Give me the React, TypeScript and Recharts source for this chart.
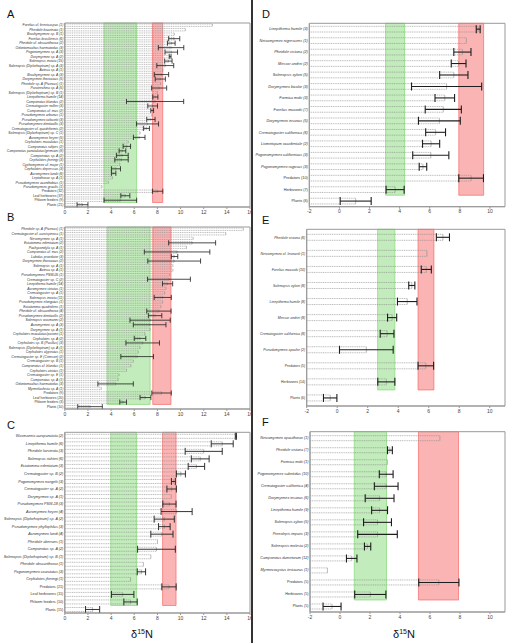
import React from "react";
import { ComposedChart, Bar, ErrorBar, XAxis, YAxis, ReferenceArea } from "recharts";

const FONT = "'Liberation Sans', Arial, Helvetica, sans-serif";
const GROUP_ROWS = ["Predators", "Leaf herbivores", "Phloem feeders", "Herbivores", "Plants"];

// panel A
const labelsA = [
  "Forelius cf. brevicaspus (1)", "Pheidole bicarinata (1)", "Brachymyrmex sp. B (1)", "Forelius brasiliensis (6)",
  "Pheidole cf. obscurithorax (2)", "Odontomachus haematodus (3)", "Pogonomyrmex sp. A (3)", "Dorymyrmex sp. A (2)",
  "Solenopsis invicta (15)", "Solenopsis (Diplorhoptrum) sp. A (3)", "Azteca sp. A (1)", "Brachymyrmex sp. A (3)",
  "Dorymyrmex thoracicus (5)", "Pheidole sp. A (Piceous) (1)", "Paratrechina sp. A (5)", "Solenopsis (Diplorhoptrum) sp. B (1)",
  "Linepithema humile (14)", "Camponotus blandus (2)", "Crematogaster nolleri (3)", "Camponotus cf. mus (2)",
  "Pseudomyrmex urbanus (1)", "Pseudomyrmex tafocetti (3)", "Pseudomyrmex denticollis (3)", "Crematogaster cf. quadriformis (2)",
  "Solenopsis (Diplorhoptrum) sp. C (1)", "Acromyrmex heyeri (5)", "Cephalotes maculatus (1)", "Camponotus rufipes (2)",
  "Camponotus punctulatus/germaini (8)", "Camponotus sp. A (2)", "Cephalotes jheringi (3)", "Cyphomyrmex cf. major (1)",
  "Cephalotes depressus (3)", "Acromyrmex lundii (6)", "Leptothorax sp. A (1)", "Pseudomyrmex acanthobius (1)",
  "Pseudomyrmex gracilis (1)", "Predators (32)", "Leaf herbivores (37)", "Phloem feeders (9)", "Plants (21)",
];
const meansA = [
  12.75, 10.42, 9.46, 9.45, 9.2, 9.18, 9.2, 9.1, 8.95, 8.68, 8.47, 8.35, 8.25, 8.27, 8.15, 8.0,
  7.82, 7.8, 7.59, 7.55, 7.52, 7.44, 7.15, 7.05, 6.5, 6.43, 5.48, 5.36, 4.98, 4.97, 4.9, 4.75,
  4.42, 4.22, 4.11, 3.76, 3.21, 8.02, 5.23, 4.8, 1.53,
];
const sdsA = [
  0, 0, 0, 0.48, 0.33, 1.1, 0.54, 0.08, 0.32, 0.73, 0, 0.62, 0.44, 0, 0.65, 0,
  0.22, 2.47, 0.42, 0.12, 0, 0.36, 0.95, 0.26, 0, 0.5, 0, 0.32, 0.29, 0.51, 0.58, 0,
  0.39, 0.19, 0, 0, 0, 0.45, 0.39, 1.41, 0.47,
];
const greenA = [3.38, 6.2];
const redA = [7.58, 8.46];

// panel B
const labelsB = [
  "Pheidole sp. A (Piceous) (1)", "Crematogaster cf. curvispinosa (1)", "Nesomyrmex sp. A (1)", "Ectatomma edentatum (2)",
  "Pachycondyla sp. A (1)", "Camponotus cf. mus (2)", "Labidus praedator (3)", "Dorymyrmex thoracicus (2)",
  "Solenopsis sp. A (1)", "Azteca sp. A (1)", "Pseudomyrmex PSW-05 (1)", "Crematogaster sp. C (2)",
  "Linepithema humile (14)", "Acromyrmex striatus (1)", "Crematogaster sp. A (1)", "Solenopsis invicta (11)",
  "Pseudomyrmex elongatus (1)", "Ectatomma quadridens (1)", "Pheidole cf. obscurithorax (4)", "Pseudomyrmex denticollis (2)",
  "Solenopsis wasmanni (2)", "Acromyrmex sp. A (3)", "Dorymyrmex sp. A (1)", "Cephalotes maculatus/pavonii (1)",
  "Cephalotes sp. A (2)", "Cephalotes sp. B (Pusillus) (3)", "Solenopsis (Diplorhoptrum) sp. A (1)", "Cephalotes clypeatus (1)",
  "Crematogaster sp. E (Crimson) (2)", "Crematogaster sp. B (1)", "Camponotus cf. blandus (1)", "Cephalotes atratus (1)",
  "Crematogaster sp. E (1)", "Camponotus sp. A (1)", "Odontomachus haematodus (3)", "Myrmelachista sp. A (1)",
  "Predators (9)", "Leaf herbivores (20)", "Phloem feeders (3)", "Plants (10)",
];
const meansB = [
  15.42, 13.91, 11.09, 11.0, 10.51, 9.7, 9.48, 9.45, 9.34, 9.34, 9.06, 9.0, 8.88, 8.74, 8.62, 8.46,
  8.45, 8.3, 8.13, 7.8, 7.37, 7.33, 7.37, 6.93, 6.5, 6.73, 6.5, 6.35, 6.25, 5.92, 5.71, 5.33,
  4.69, 4.61, 4.39, 3.15, 8.36, 6.97, 5.04, 2.18,
];
const sdsB = [
  0, 0, 0, 2.03, 0, 2.83, 0.28, 2.28, 0, 0, 0, 1.85, 0.44, 0, 0, 0.74,
  0, 0, 1.05, 0.58, 1.74, 1.41, 0, 0, 0.5, 1.45, 0, 0, 1.41, 0, 0, 0,
  0, 0, 1.53, 0, 0.84, 0.47, 0.29, 1.06,
];
const greenB = [3.65, 7.37];
const redB = [7.6, 9.17];

// panel C
const labelsC = [
  "Wasmannia auropunctata (2)", "Linepithema humile (6)", "Pheidole laevinota (3)", "Solenopsis richteri (6)",
  "Ectatomma edentatum (3)", "Crematogaster sp. B (2)", "Pogonomyrmex naegelii (3)", "Crematogaster sp. A (2)",
  "Dorymyrmex sp. A (1)", "Pseudomyrmex PSW-18 (3)", "Acromyrmex heyeri (4)", "Solenopsis (Diplorhoptrum) sp. A (2)",
  "Pseudomyrmex phyllophilus (3)", "Acromyrmex lundi (4)", "Pheidole aberrans (1)", "Camponotus sp. A (2)",
  "Solenopsis (Diplorhoptrum) sp. B (1)", "Pheidole obscurithorax (1)", "Pogonomyrmex coarctatus (3)", "Cephalotes jheringi (1)",
  "Predators (21)", "Leaf herbivores (11)", "Phloem feeders (10)", "Plants (15)",
];
const meansC = [
  14.78, 13.6, 12.0, 11.7, 11.37, 10.03, 9.38, 9.23, 9.2, 9.04, 9.66, 8.59,
  8.6, 8.39, 8.01, 7.92, 7.43, 6.79, 6.62, 5.68, 9.0, 5.0, 5.68, 2.4,
];
const sdsC = [
  0.05, 0.95, 1.6, 0.77, 0.71, 0.39, 0.17, 0.41, 0, 0.57, 1.34, 0.87,
  0.5, 0.96, 0, 1.63, 0, 0, 0.36, 0, 0.62, 0.97, 0.58, 0.61,
];
const greenC = [3.97, 6.2];
const redC = [8.45, 9.61];

// panel D
const labelsD = [
  "Linepithema humile (3)", "Neivamyrmex nigrescens (1)", "Pheidole vistana (2)", "Messor andrei (2)",
  "Solenopsis xyloni (5)", "Dorymyrmex bicolor (3)", "Formica moki (3)", "Forelius mccooki (7)",
  "Dorymyrmex insanus (5)", "Crematogaster californica (6)", "Liometopum occidentale (2)", "Pogonomyrmex californicus (3)",
  "Pogonomyrmex rugosus (3)", "Predators (10)", "Herbivores (7)", "Plants (6)",
];
const meansD = [9.22, 8.43, 8.17, 7.92, 7.6, 7.12, 7.0, 6.9, 6.64, 6.39, 6.09, 6.07, 5.55, 8.75, 3.7, 1.08];
const sdsD = [0.13, 0, 0.57, 0.49, 0.94, 2.33, 0.65, 1.2, 1.39, 0.66, 0.57, 1.2, 0.25, 0.82, 0.6, 1.03];
const greenD = [3.07, 4.33];
const redD = [7.93, 9.58];

// panel E
const labelsE = [
  "Pheidole vistana (6)", "Neivamyrmex cf. leonardi (1)", "Forelius mccooki (10)", "Solenopsis xyloni (8)",
  "Linepithema humile (8)", "Messor andrei (8)", "Crematogaster californica (8)", "Pseudomyrmex apache (2)",
  "Predators (5)", "Herbivores (14)", "Plants (6)",
];
const meansE = [6.93, 5.88, 5.84, 4.89, 4.59, 3.6, 3.27, 1.91, 5.81, 3.22, -0.46];
const sdsE = [0.43, 0, 0.33, 0.2, 0.64, 0.3, 0.45, 1.76, 0.51, 0.56, 0.44];
const greenE = [2.65, 3.78];
const redE = [5.3, 6.34];

// panel F
const labelsF = [
  "Neivamyrmex opacithorax (1)", "Pheidole vistana (7)", "Formica moki (1)", "Pogonomyrmex subnitidus (10)",
  "Crematogaster californica (4)", "Dorymyrmex insanus (6)", "Linepithema humile (9)", "Solenopsis xyloni (5)",
  "Prenolepis imparis (3)", "Solenopsis molesta (2)", "Camponotus dumetorum (12)", "Myrmecocystus testaceus (1)",
  "Predators (5)", "Herbivores (5)", "Plants (5)",
];
const meansF = [6.66, 3.33, 3.17, 3.08, 3.08, 2.64, 2.64, 2.5, 2.5, 1.84, 0.78, -0.84, 6.59, 2.02, -0.53];
const sdsF = [0, 0.16, 0, 0.46, 0.79, 0.96, 0.53, 0.93, 1.32, 0.21, 0.35, 0, 1.34, 1.04, 0.6];
const greenF = [0.95, 3.1];
const redF = [5.23, 7.9];

const ticksWide = [0, 2, 4, 6, 8, 10, 12, 14, 16];
const ticksNarrow = [-2, 0, 2, 4, 6, 8, 10];

function DashedBar(props: any) {
  const { x, y, width, height } = props;
  if (!(width > 0)) return null;
  const x2 = x + width;
  return (
    <g>
      <line x1={x} y1={y} x2={x2} y2={y} stroke="#8c8c8c" strokeWidth={0.6} strokeDasharray="1.1 0.7" />
      <line x1={x} y1={y + height} x2={x2} y2={y + height} stroke="#8c8c8c" strokeWidth={0.6} strokeDasharray="1.1 0.7" />
      <line x1={x2} y1={y} x2={x2} y2={y + height} stroke="#8c8c8c" strokeWidth={0.6} />
    </g>
  );
}

type PanelProps = {
  letter: string;
  labels: string[];
  means: number[];
  sds: number[];
  green: number[];
  red: number[];
  xDomain: [number, number];
  xTicks: number[];
  left: number;
  top: number;
  height: number;
  plotTop: number;
  axisH: number;
  yW: number;
  rowFont: number;
  barSize: number;
  capW: number;
  errW: number;
  letterTop: number;
};

function Panel(p: PanelProps) {
  const n = p.labels.length;
  const data = p.labels.map((label, i) => ({
    idx: i,
    span: [p.xDomain[0], p.means[i]],
    sd: p.sds[i],
  }));
  const rowTicks = p.labels.map((_, i) => i);

  const RowTick = (props: any) => {
    const { x, y, payload } = props;
    const label = p.labels[payload.value];
    if (label == null) return null;
    const plain = GROUP_ROWS.some((g) => label.startsWith(g));
    return (
      <text x={x} y={y} dy="0.35em" textAnchor="end" fontSize={p.rowFont}
        fontStyle={plain ? "normal" : "italic"} fill="#333">
        {label}
      </text>
    );
  };

  return (
    <>
      <div style={{ position: "absolute", left: p.left + 7, top: p.letterTop, fontSize: 11, lineHeight: "11px", color: "#111" }}>
        {p.letter}
      </div>
      <div style={{ position: "absolute", left: p.left, top: p.top }}>
        <ComposedChart layout="vertical" width={252} height={p.height} data={data}
          margin={{ top: p.plotTop - p.top, right: 2, bottom: 0, left: 0 }}>
          <XAxis type="number" domain={p.xDomain} ticks={p.xTicks} allowDataOverflow interval={0}
            height={p.axisH} tickSize={2} tickMargin={1}
            tick={{ fontSize: 5, fill: "#444" }}
            axisLine={{ stroke: "#999" }} tickLine={{ stroke: "#999" }} />
          <YAxis type="number" dataKey="idx" domain={[-0.5, n - 0.5]} allowDataOverflow
            ticks={rowTicks} interval={0} width={p.yW} tickSize={0} tickMargin={1.5}
            tick={RowTick} axisLine={{ stroke: "#999" }} tickLine={false} />
          <ReferenceArea x1={p.green[0]} x2={p.green[1]} y1={-0.5} y2={n - 1.5}
            fill="#86d977" fillOpacity={0.5} stroke="#86d977" strokeOpacity={0.7} />
          <ReferenceArea x1={p.red[0]} x2={p.red[1]} y1={-0.5} y2={n - 1.5}
            fill="#f76a6a" fillOpacity={0.5} stroke="#f76a6a" strokeOpacity={0.7} />
          <ReferenceArea x1={p.xDomain[0]} x2={p.xDomain[1]} y1={-0.5} y2={n - 0.5}
            fill="none" stroke="#999" strokeWidth={1} />
          <Bar dataKey="span" barSize={p.barSize} shape={DashedBar} isAnimationActive={false}>
            <ErrorBar dataKey="sd" direction="x" width={p.capW} stroke="#1e1e1e" strokeWidth={p.errW} />
          </Bar>
        </ComposedChart>
      </div>
    </>
  );
}

function Delta({ left }: { left: number }) {
  return (
    <div style={{ position: "absolute", left: left - 30, top: 629, width: 60, textAlign: "center", fontSize: 11, lineHeight: "11px", color: "#111" }}>
      δ<span style={{ position: "relative", top: -4, fontSize: 7 }}>15</span>N
    </div>
  );
}

export default function App() {
  return (
    <div style={{ position: "absolute", left: 0, top: 0, width: 510, height: 643, background: "#fff", fontFamily: FONT, overflow: "hidden" }}>
      <Panel letter="A" labels={labelsA} means={meansA} sds={sdsA} green={greenA} red={redA}
        xDomain={[0, 16]} xTicks={ticksWide} left={0} top={0} height={220} plotTop={23} axisH={13}
        yW={64.8} rowFont={3.4} barSize={2.4} capW={2.6} errW={0.8} letterTop={8.5} />
      <Panel letter="B" labels={labelsB} means={meansB} sds={sdsB} green={greenB} red={redB}
        xDomain={[0, 16]} xTicks={ticksWide} left={0} top={214} height={209} plotTop={227} axisH={14}
        yW={64.8} rowFont={3.4} barSize={2.4} capW={2.6} errW={0.8} letterTop={211.5} />
      <Panel letter="C" labels={labelsC} means={meansC} sds={sdsC} green={greenC} red={redC}
        xDomain={[0, 16]} xTicks={ticksWide} left={0} top={420} height={207} plotTop={432.3} axisH={14}
        yW={64.8} rowFont={3.7} barSize={4} capW={3.5} errW={0.9} letterTop={419.5} />
      <Panel letter="D" labels={labelsD} means={meansD} sds={sdsD} green={greenD} red={redD}
        xDomain={[-2, 11]} xTicks={ticksNarrow} left={255} top={0} height={220} plotTop={23.3} axisH={13.3}
        yW={54.3} rowFont={3.8} barSize={5.7} capW={4} errW={1.1} letterTop={8.5} />
      <Panel letter="E" labels={labelsE} means={meansE} sds={sdsE} green={greenE} red={redE}
        xDomain={[-2, 11]} xTicks={ticksNarrow} left={255} top={216} height={204} plotTop={229.3} axisH={14}
        yW={51.7} rowFont={3.5} barSize={6} capW={4} errW={1.1} letterTop={215} />
      <Panel letter="F" labels={labelsF} means={meansF} sds={sdsF} green={greenF} red={redF}
        xDomain={[-2, 11]} xTicks={ticksNarrow} left={255} top={419} height={207} plotTop={431.7} axisH={14}
        yW={55} rowFont={3.7} barSize={5} capW={4} errW={1.1} letterTop={416.5} />
      <div style={{ position: "absolute", left: 251, top: 0, width: 1.5, height: 643, background: "#333" }} />
      <Delta left={142} />
      <Delta left={404} />
    </div>
  );
}
